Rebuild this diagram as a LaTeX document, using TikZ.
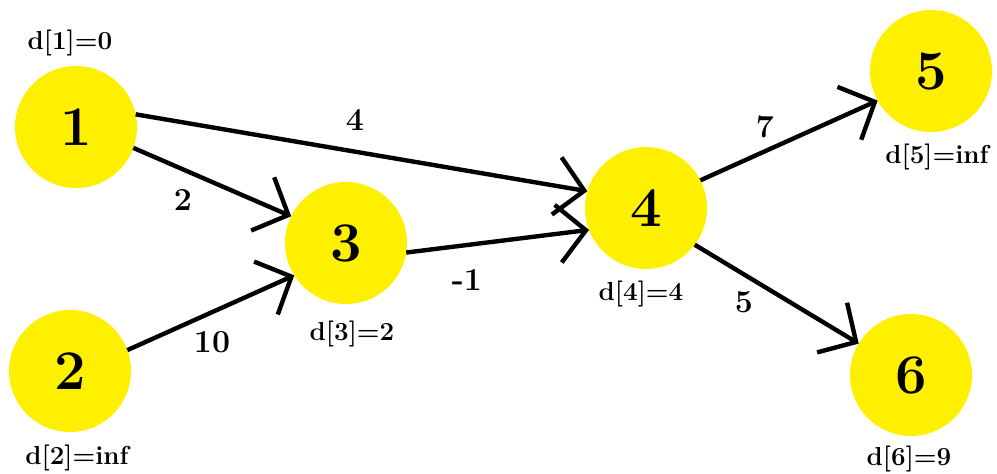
\documentclass[tikz,border=0pt]{standalone}
\usetikzlibrary{arrows.meta}
\definecolor{nodeyellow}{RGB}{255,240,0}
\tikzset{
  vert/.style={circle, fill=nodeyellow, minimum size=61pt, inner sep=0pt, outer sep=0pt, font=\fontsize{28}{30}\selectfont\bfseries},
  dlabel/.style={inner sep=0pt, font=\fontsize{13}{15}\selectfont\bfseries},
  wlabel/.style={inner sep=0pt, font=\fontsize{16}{18}\selectfont\bfseries},
  edgearrow/.style={line width=2.2pt, -{Straight Barb[length=14pt,width=29pt,line width=2.2pt]}}
}
\begin{document}
\begin{tikzpicture}[x=0.5pt,y=-0.5pt]
\useasboundingbox (0,0) rectangle (997,473);
\node[vert] (n1) at (76,127) {1};
\node[vert] (n2) at (70,371) {2};
\node[vert] (n3) at (346,243) {3};
\node[vert] (n4) at (646,208) {4};
\node[vert] (n5) at (931,71) {5};
\node[vert] (n6) at (911,375) {6};

\node[dlabel] (d1) at (70,43) {d[1]=0};
\node[dlabel] (d2) at (77,458) {d[2]=inf};
\node[dlabel] (d3) at (352,334) {d[3]=2};
\node[dlabel] (d4) at (641,294) {d[4]=4};
\node[dlabel] (d5) at (937,157) {d[5]=inf};
\node[dlabel] (d6) at (909,459) {d[6]=9};

\draw[edgearrow] (n1.12) -- (n4.164);
\draw[edgearrow] (n1.-20) -- (n3.154);
\draw[edgearrow] (n2.20) -- (n3.212);
\draw[edgearrow] (n3.-9) -- (n4.201);
\draw[edgearrow] (n4.27) -- (n5.209);
\draw[edgearrow] (n4.-37) -- (n6.149);

\node[wlabel] (w14) at (355,120) {4};
\node[wlabel] (w13) at (183,200) {2};
\node[wlabel] (w23) at (212,342) {10};
\node[wlabel] (w34) at (467,280) {-1};
\node[wlabel] (w45) at (765,127) {7};
\node[wlabel] (w46) at (744,302) {5};
\end{tikzpicture}
\end{document}
